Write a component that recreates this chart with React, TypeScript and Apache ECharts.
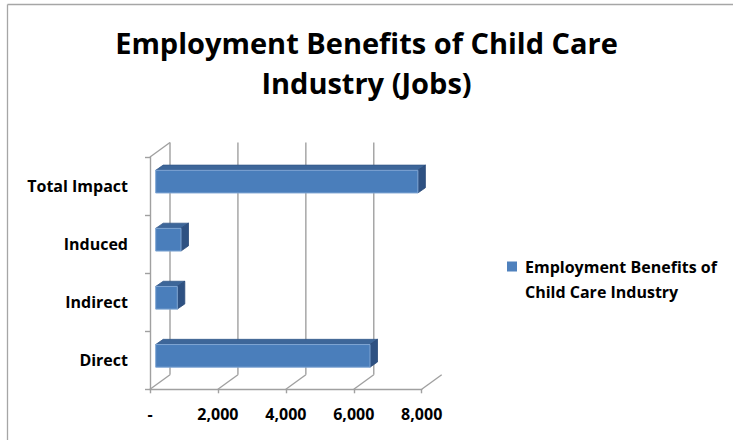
import React, { useEffect, useRef } from "react";
import * as echarts from "echarts";

const categories = ["Direct", "Indirect", "Induced", "Total Impact"];
const jobs = [6310, 636, 745, 7720];
const xTicks = [0, 2000, 4000, 6000, 8000];
const seriesName = "Employment Benefits of Child Care Industry";
const titleText = "Employment Benefits of Child Care\nIndustry (Jobs)";
const legendLines = ["Employment Benefits of", "Child Care Industry"];

const FONT = "'Open Sans', Lato, sans-serif";
const DX = 20;
const DY = -14.5;

export default function App() {
  const ref = useRef<HTMLDivElement>(null);
  useEffect(() => {
    if (!ref.current) return;
    const chart = echarts.init(ref.current, null, { renderer: "svg" });
    const fmt = (v: number) => (v === 0 ? "-" : v.toLocaleString("en-US"));
    chart.setOption({
      animation: false,
      backgroundColor: "#fff",
      title: {
        text: titleText,
        left: "center",
        top: 17,
        textStyle: {
          fontFamily: FONT,
          fontWeight: "bold",
          fontSize: 29,
          lineHeight: 40,
          color: "#000",
        },
      },
      legend: {
        data: [seriesName],
        left: 502,
        top: 224,
        icon: "rect",
        itemWidth: 10,
        itemHeight: 10,
        formatter: () => " \n" + legendLines.join("\n"),
        textStyle: {
          fontFamily: FONT,
          fontWeight: "bold",
          fontSize: 16,
          lineHeight: 25,
          color: "#000",
          padding: [0, 0, 0, 3],
        },
      },
      grid: { left: 150, right: 311.3, top: 157, bottom: 50.7, containLabel: false },
      xAxis: {
        type: "value",
        min: 0,
        max: 8000,
        interval: 2000,
        axisLine: { show: true, lineStyle: { color: "#A0A0A0", width: 1.4 } },
        axisTick: { show: true, length: 4, lineStyle: { color: "#A0A0A0", width: 1.4 } },
        splitLine: { show: false },
        axisLabel: {
          formatter: fmt,
          margin: 17,
          fontFamily: FONT,
          fontWeight: "bold",
          fontSize: 16,
          color: "#000",
        },
      },
      yAxis: {
        type: "category",
        data: categories,
        axisLine: { show: true, lineStyle: { color: "#A0A0A0", width: 1.4 } },
        axisTick: { show: true, length: 5, lineStyle: { color: "#A0A0A0", width: 1.4 } },
        axisLabel: {
          margin: 22,
          fontFamily: FONT,
          fontWeight: "bold",
          fontSize: 16,
          color: "#000",
        },
      },
      series: [
        {
          type: "custom",
          name: "walls",
          silent: true,
          z: 1,
          encode: { x: 0, y: 1 },
          data: xTicks.map((t) => [t, 0]),
          renderItem: (params: any, api: any) => {
            const cs = params.coordSys;
            const v = api.value(0);
            const x = api.coord([v, 0])[0];
            const bottom = cs.y + cs.height;
            const top = cs.y;
            const style = { stroke: "#A0A0A0", lineWidth: 1.4, fill: "none" };
            const children: any[] = [
              { type: "line", shape: { x1: x, y1: bottom, x2: x + DX, y2: bottom + DY }, style },
            ];
            if (v < 8000) {
              children.push({
                type: "line",
                shape: { x1: x + DX, y1: bottom + DY, x2: x + DX, y2: top + DY },
                style,
              });
            }
            if (v === 0) {
              children.push({
                type: "line",
                shape: { x1: x, y1: top, x2: x + DX, y2: top + DY },
                style,
              });
            }
            return { type: "group", children };
          },
        },
        {
          type: "custom",
          name: seriesName,
          z: 3,
          itemStyle: { color: "#4F81BD" },
          encode: { x: 0, y: 1 },
          data: jobs.map((v, i) => [v, i]),
          renderItem: (params: any, api: any) => {
            const v = api.value(0);
            const c = api.value(1);
            const p0 = api.coord([0, c]);
            const p1 = api.coord([v, c]);
            const band = api.size([0, 1])[1];
            const h = band * 0.39;
            const ox = 5.7;
            const oy = -4.4;
            const x0 = p0[0] + ox;
            const x1 = p1[0] + ox;
            const yc = p0[1] + oy;
            const yT = yc - h / 2;
            const yB = yc + h / 2;
            const dx = 7.5;
            const dy = -5.2;
            return {
              type: "group",
              children: [
                {
                  type: "polygon",
                  shape: { points: [[x0, yT], [x1, yT], [x1 + dx, yT + dy], [x0 + dx, yT + dy]] },
                  style: { fill: "#3D6699", stroke: "#35598A", lineWidth: 0.8 },
                },
                {
                  type: "polygon",
                  shape: { points: [[x1, yT], [x1 + dx, yT + dy], [x1 + dx, yB + dy], [x1, yB]] },
                  style: { fill: "#2E5182", stroke: "#2A4A78", lineWidth: 0.8 },
                },
                {
                  type: "rect",
                  shape: { x: x0, y: yT, width: x1 - x0, height: h },
                  style: { fill: "#4A7EBB", stroke: "#7FA5D3", lineWidth: 1 },
                },
              ],
            };
          },
        },
      ],
      graphic: [
        {
          type: "line",
          silent: true,
          shape: { x1: 7.5, y1: 4.5, x2: 760, y2: 4.5 },
          style: { stroke: "#A6A6A6", lineWidth: 1.3 },
        },
        {
          type: "line",
          silent: true,
          shape: { x1: 7.5, y1: 4.5, x2: 7.5, y2: 460 },
          style: { stroke: "#A6A6A6", lineWidth: 1.3 },
        },
      ],
    });
    return () => chart.dispose();
  }, []);
  return (
    <div
      ref={ref}
      style={{ position: "fixed", left: 0, top: 0, width: 733, height: 440 }}
    />
  );
}
